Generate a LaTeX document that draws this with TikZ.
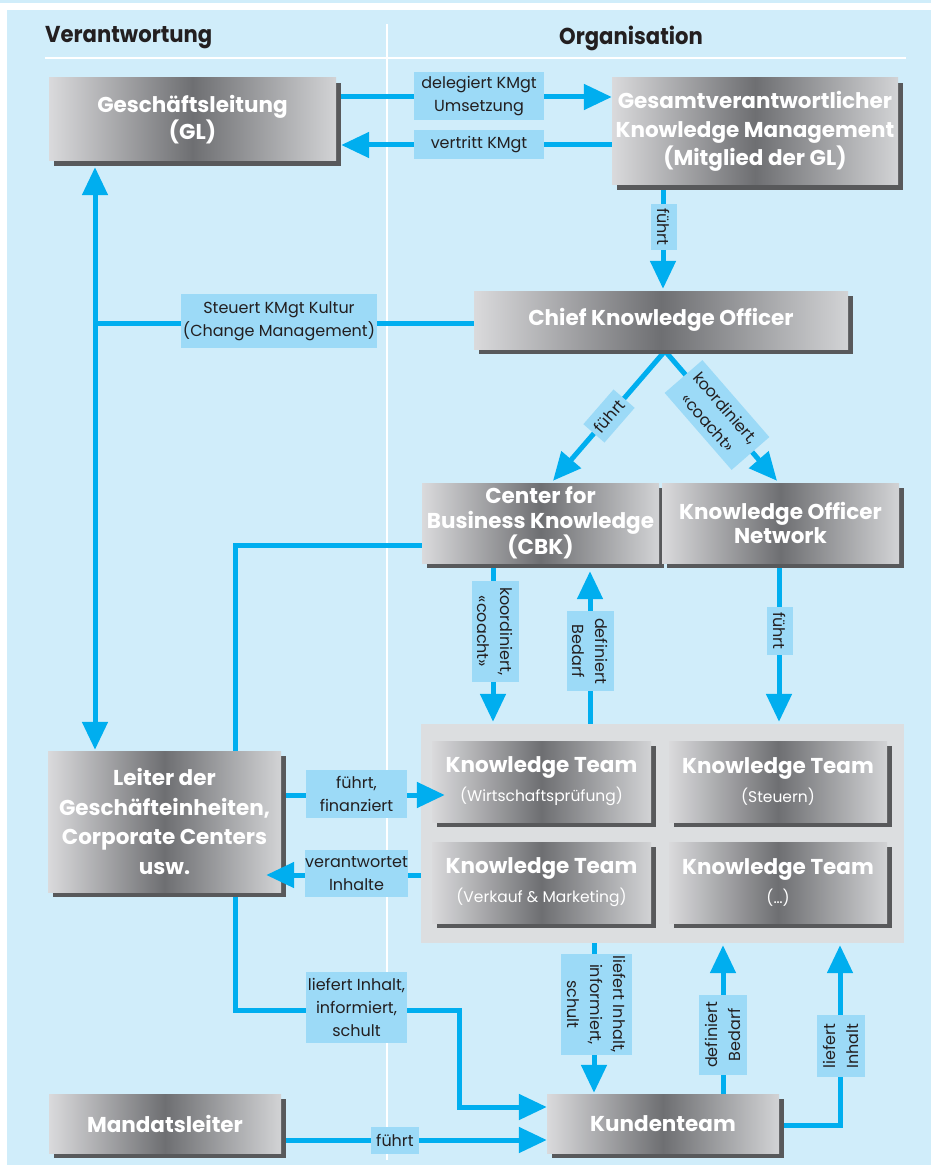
\documentclass[tikz,border=0pt]{standalone}
\usepackage{fontspec}
\setmainfont{Poppins}
\newfontfamily\headfont{Poppins}[FakeStretch=0.92]
\usetikzlibrary{arrows.meta,shadows,calc}
\pgfdeclarelayer{bglayer}
\pgfdeclarelayer{linelayer}
\pgfsetlayers{bglayer,linelayer,main}
\definecolor{bgblue}{HTML}{D0EDFA}
\definecolor{lblblue}{HTML}{9CDAF7}
\definecolor{cyanline}{HTML}{00AEEF}
\definecolor{shadowgray}{HTML}{58595B}
\definecolor{boxlight}{HTML}{DADADC}
\definecolor{boxlightr}{HTML}{D2D3D5}
\definecolor{boxdark}{HTML}{6E6F72}
\definecolor{contgray}{HTML}{DCDEE0}
\definecolor{txtdark}{HTML}{231F20}
\newcommand\boxfnt[1]{\bfseries\fontsize{21.5}{#1}\selectfont}
\newcommand\lblfnt{\fontsize{16}{23}\selectfont}
\newcommand\subfnt{\mdseries\fontsize{15.5}{20}\selectfont}
\tikzset{
  box/.style={inner sep=0pt, align=center, text=white,
    left color=boxlight, right color=boxlightr, middle color=boxdark,
    drop shadow={shadow xshift=5pt, shadow yshift=-5pt, fill=shadowgray, opacity=1}},
  lbl/.style={fill=lblblue, inner sep=0pt, align=center, text=txtdark, font=\lblfnt},
  conn/.style={draw=cyanline, line width=5pt},
  arr/.style={conn, -{Triangle[length=28pt,width=25pt]}},
  dbl/.style={conn, {Triangle[length=28pt,width=25pt]}-{Triangle[length=28pt,width=25pt]}},
  head/.style={inner sep=0pt, text=txtdark, font=\headfont\bfseries\fontsize{23}{28}\selectfont},
  wline/.style={draw=white, line width=1.5pt},
}
\begin{document}
\begin{tikzpicture}[x=1pt,y=-1pt]
\begin{pgfonlayer}{bglayer}
\useasboundingbox (0,0) rectangle (931,1166);
\fill[white] (0,0) rectangle (931,1166);
\fill[bgblue] (0,0) rectangle (931,3);
\fill[bgblue] (7,10) rectangle (931,1165);
\draw[wline] (45,58) -- (906,58);
\draw[wline] (387,24) -- (387,1160);
\end{pgfonlayer}

% headers
\node[head, anchor=west] (hV) at (45,38) {Verantwortung};
\node[head] (hO) at (631,38) {Organisation};

% boxes
\node[box, minimum width=287pt, minimum height=83pt, font=\boxfnt{25}] (GL) at (192.5,119.5) {Geschäftsleitung\\(GL)};
\node[box, minimum width=286pt, minimum height=107pt, font=\boxfnt{28.5}] (Gesamt) at (755,131.5) {Gesamtverantwortlicher\\Knowledge Management\\(Mitglied der GL)};
\node[box, minimum width=374pt, minimum height=58pt, font=\boxfnt{25}] (CKO) at (661,320) {Chief Knowledge Officer};
\node[box, minimum width=237pt, minimum height=80pt, font=\boxfnt{24.5}] (CBK) at (540.5,523) {Center for\\Business Knowledge\\(CBK)};
\node[box, minimum width=237pt, minimum height=80pt, font=\boxfnt{23.5}] (KON) at (780.5,523) {Knowledge Officer\\Network};
\node[fill=contgray, inner sep=0pt, minimum width=483pt, minimum height=219pt] (Cont) at (662.5,833.5) {};
\node[box, minimum width=219pt, minimum height=81pt, font=\boxfnt{29}] (KT1) at (541.5,781.5) {Knowledge Team\\{\subfnt (Wirtschaftsprüfung)}};
\node[box, minimum width=218pt, minimum height=81pt, font=\boxfnt{29}] (KT2) at (778,781.5) {Knowledge Team\\{\subfnt (Steuern)}};
\node[box, minimum width=219pt, minimum height=81pt, font=\boxfnt{29}] (KT3) at (541.5,882.5) {Knowledge Team\\{\subfnt (Verkauf \& Marketing)}};
\node[box, minimum width=218pt, minimum height=81pt, font=\boxfnt{29}] (KT4) at (778,882.5) {Knowledge Team\\{\subfnt (…)}};
\node[box, minimum width=233pt, minimum height=141pt, font=\boxfnt{29.5}] (Leiter) at (164.5,821.5) {Leiter der\\Geschäfteinheiten,\\Corporate Centers\\usw.};
\node[box, minimum width=232pt, minimum height=59pt, font=\boxfnt{25}] (Mandat) at (165,1123.5) {Mandatsleiter};
\node[box, minimum width=232pt, minimum height=59pt, font=\boxfnt{25}] (Kunden) at (663,1123.5) {Kundenteam};

\coordinate (ck) at (665,351);
\coordinate (sj) at (95,323);

% connectors behind boxes
\begin{pgfonlayer}{linelayer}
\draw[arr] (GL.east |- 0,97) -- (Gesamt.west |- 0,97);
\draw[arr] (Gesamt.west |- 0,145) -- ($(GL.east |- 0,145)+(5,0)$);
\draw[arr] (Gesamt.south -| 663,0) -- ($(CKO.north -| 663,0)+(0,-2)$);
\draw[dbl] ($(GL.south -| 95,0)+(0,6)$) -- ($(Leiter.north -| 95,0)+(0,-1)$);
\draw[conn] (sj) -- (CKO.west |- sj);
\draw[arr] (ck) -- ($(CBK.north -| 553,0)+(0,-2)$);
\draw[arr] (ck) -- ($(KON.north -| 777,0)+(0,-2)$);
\draw[arr] (CBK.south -| 493,0) -- ($(Cont.north -| 493,0)+(0,-2)$);
\draw[arr] (Cont.north -| 590,0) -- ($(CBK.south -| 590,0)+(0,8)$);
\draw[arr] (KON.south -| 779,0) -- ($(Cont.north -| 779,0)+(0,-2)$);
\draw[arr] (CBK.west |- 0,545) -- (235,545) -- (235,1010) -- (459,1010) -- (459,1107) -- (Kunden.west |- 0,1107);
\draw[arr] (Cont.south -| 594,0) -- ($(Kunden.north -| 594,0)+(0,-1)$);
\draw[arr] (Kunden.north -| 723,0) -- ($(Cont.south -| 723,0)+(0,2)$);
\draw[arr] (Kunden.east |- 0,1125) -- (840,1125) -- ($(Cont.south -| 840,0)+(0,2)$);
\draw[arr] (Mandat.east |- 0,1140) -- (Kunden.west |- 0,1140);
\end{pgfonlayer}

% connectors over boxes
\draw[arr] ($(Leiter.east |- 0,795)+(5,0)$) -- ($(KT1.west |- 0,795)+(13,0)$);
\draw[arr] (Cont.west |- 0,875) -- ($(Leiter.east |- 0,875)+(-15,0)$);

% labels
\node[lbl, minimum width=130pt, minimum height=48pt] (lDeleg) at (479,96) {delegiert KMgt\\Umsetzung};
\node[lbl, minimum width=130pt, minimum height=29pt] (lVert) at (479,144.5) {vertritt KMgt};
\node[lbl, rotate=-90, minimum width=45pt, minimum height=26pt] (lF1) at (664,227) {führt};
\node[lbl, minimum width=196pt, minimum height=54pt] (lSteu) at (279,321) {Steuert KMgt Kultur\\(Change Management)};
\node[lbl, rotate=49, minimum width=46pt, minimum height=28pt] (lF2) at (609,416) {führt};
\node[lbl, rotate=-49, minimum width=102pt, minimum height=50pt] (lK1) at (717,415) {koordiniert,\\«coacht»};
\node[lbl, rotate=-90, minimum width=101pt, minimum height=47pt] (lK2) at (495.5,631.5) {koordiniert,\\«coacht»};
\node[lbl, rotate=-90, minimum width=80pt, minimum height=47pt] (lD1) at (590.5,651) {definiert\\Bedarf};
\node[lbl, rotate=-90, minimum width=48pt, minimum height=26pt] (lF3) at (780,631) {führt};
\node[lbl, minimum width=101pt, minimum height=48pt] (lFF) at (356.5,794) {führt,\\finanziert};
\node[lbl, minimum width=101pt, minimum height=47pt] (lVI) at (356.5,873.5) {verantwortet\\Inhalte};
\node[lbl, minimum width=101pt, minimum height=71pt] (lLI1) at (356.5,1007.5) {liefert Inhalt,\\informiert,\\schult};
\node[lbl, rotate=-90, minimum width=101pt, minimum height=71pt] (lLI2) at (596.5,1004.5) {liefert Inhalt,\\informiert,\\schult};
\node[lbl, rotate=90, minimum width=80pt, minimum height=48pt] (lD2) at (723,1035) {definiert\\Bedarf};
\node[lbl, rotate=90, minimum width=62pt, minimum height=48pt] (lLI3) at (841,1046) {liefert\\Inhalt};
\node[lbl, minimum width=48pt, minimum height=27pt] (lF4) at (395,1140.5) {führt};
\end{tikzpicture}
\end{document}
